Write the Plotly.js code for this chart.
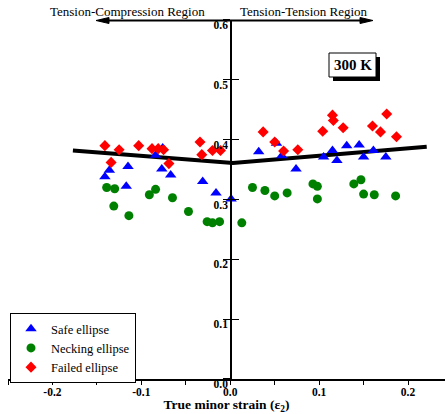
<!DOCTYPE html>
<html>
<head>
<meta charset="utf-8">
<script src="https://cdn.plot.ly/plotly-3.0.1.min.js"></script>
<style>html,body{margin:0;padding:0;background:#fff;}#chart{width:445px;height:414px;}</style>
</head>
<body>
<div id="chart"></div>
<script>
// Data
const safeX = [-0.141, -0.136, -0.117, -0.115, -0.084, -0.077, -0.076, -0.067, -0.031, -0.016, 0.001, 0.032, 0.052, 0.058, 0.074, 0.105, 0.115, 0.120, 0.131, 0.145, 0.150, 0.161, 0.175];
const safeY = [0.338, 0.349, 0.322, 0.355, 0.374, 0.351, 0.386, 0.341, 0.330, 0.311, 0.301, 0.380, 0.394, 0.373, 0.351, 0.371, 0.382, 0.365, 0.390, 0.391, 0.371, 0.382, 0.371];
const neckX = [-0.139, -0.130, -0.131, -0.114, -0.091, -0.084, -0.065, -0.047, -0.026, -0.020, -0.012, 0.013, 0.025, 0.039, 0.050, 0.064, 0.093, 0.098, 0.098, 0.139, 0.147, 0.150, 0.162, 0.186];
const neckY = [0.320, 0.318, 0.289, 0.273, 0.308, 0.317, 0.303, 0.280, 0.263, 0.261, 0.263, 0.261, 0.320, 0.315, 0.306, 0.311, 0.326, 0.322, 0.301, 0.326, 0.333, 0.309, 0.308, 0.306];
const failX = [-0.141, -0.134, -0.125, -0.103, -0.088, -0.081, -0.075, -0.069, -0.034, -0.032, -0.020, -0.011, 0.037, 0.050, 0.060, 0.076, 0.104, 0.115, 0.116, 0.127, 0.160, 0.169, 0.176, 0.187];
const failY = [0.390, 0.362, 0.383, 0.390, 0.385, 0.385, 0.383, 0.360, 0.396, 0.375, 0.382, 0.382, 0.413, 0.396, 0.381, 0.383, 0.414, 0.441, 0.432, 0.420, 0.423, 0.413, 0.443, 0.405];
const fldX = [-0.177, 0.003, 0.221];
const fldY = [0.382, 0.361, 0.388];
const seriesNames = ["Safe ellipse", "Necking ellipse", "Failed ellipse"];
const xTickVals = [-0.2, -0.1, 0.0, 0.1, 0.2];
const xTickText = ["-0.2", "-0.1", "0.0", "0.1", "0.2"];
const xMinorVals = [-0.25, -0.15, -0.05, 0.05, 0.15];
const yTickVals = [0.0, 0.1, 0.2, 0.3, 0.4, 0.5, 0.6];
const yTickText = ["0.0", "0.1", "0.2", "0.3", "0.4", "0.5", "0.6"];

const serif = "Liberation Serif";

const traces = [
  {x: fldX, y: fldY, mode: "lines", line: {color: "#000", width: 4}, showlegend: false, hoverinfo: "skip"},
  {x: safeX, y: safeY, mode: "markers", name: seriesNames[0], marker: {symbol: "triangle-up", color: "#0000ff", size: 10}},
  {x: neckX, y: neckY, mode: "markers", name: seriesNames[1], marker: {symbol: "circle", color: "#008000", size: 9}},
  {x: failX, y: failY, mode: "markers", name: seriesNames[2], marker: {symbol: "diamond", color: "#ff0000", size: 8.5}},
  {x: [0], y: [0.3], yaxis: "y2", mode: "markers", marker: {opacity: 0}, showlegend: false, hoverinfo: "skip"}
];

// plot area geometry (pixels)
const L = 8, T = 20, B = 35, W = 437, H = 359;
const px = v => (v - L) / W;          // pixel x -> paper x
const py = v => (T + H - v) / H;      // pixel y -> paper y
const xr = [-0.25, -0.25 + W / 889];
const ypos = (0 - xr[0]) / (xr[1] - xr[0]);

const layout = {
  width: 445, height: 414,
  margin: {l: L, r: 0, t: T, b: B},
  paper_bgcolor: "#fff", plot_bgcolor: "#fff",
  font: {family: serif, color: "#000"},
  showlegend: true,
  legend: {
    x: px(10), xanchor: "left", y: py(313), yanchor: "top",
    bgcolor: "#fff", bordercolor: "#000", borderwidth: 1,
    font: {family: serif, size: 12.5, color: "#000"},
    tracegroupgap: 0, itemwidth: 30
  },
  xaxis: {
    range: xr, showgrid: false, zeroline: false, automargin: false,
    showline: true, linecolor: "#000", linewidth: 2,
    tickvals: xTickVals, ticktext: xTickText,
    ticks: "outside", ticklen: 4, tickwidth: 1, tickcolor: "#000",
    ticklabelstandoff: -3,
    minor: {tickvals: xMinorVals, ticks: "outside", ticklen: 4, tickcolor: "#000"},
    tickfont: {family: serif, size: 11.5, weight: "bold", color: "#000"},
    title: {text: "True minor strain (ε<sub>2</sub>)", font: {family: serif, size: 13.5, weight: "bold", color: "#000"}}
  },
  yaxis: {
    range: [0, 0.6], showgrid: false, zeroline: false, automargin: false,
    anchor: "free", position: ypos, side: "left",
    showline: true, linecolor: "#000", linewidth: 1.5,
    tickvals: yTickVals, ticktext: yTickText,
    ticks: "inside", ticklen: 7, tickwidth: 1.2, tickcolor: "#000",
    ticklabelshift: 5, ticklabelstandoff: 0,
    tickfont: {family: serif, size: 11.5, weight: "bold", color: "#000"}
  },
  yaxis2: {
    range: [0, 0.6], overlaying: "y", anchor: "free", position: ypos, side: "left",
    showgrid: false, zeroline: false, showline: false, automargin: false,
    tickvals: yTickVals, ticks: "outside", ticklen: 7, tickwidth: 1.2, tickcolor: "#000",
    showticklabels: false
  },
  shapes: [
    // 300 K label box with drop shadow
    {type: "rect", xref: "paper", yref: "paper", x0: px(333), x1: px(380), y0: py(81), y1: py(57), fillcolor: "#000", line: {width: 0}, layer: "above"},
    {type: "rect", xref: "paper", yref: "paper", x0: px(329), x1: px(376), y0: py(77), y1: py(53), fillcolor: "#fff", line: {color: "#000", width: 1}, layer: "above"},
    // legend drop shadow
    {type: "rect", xref: "paper", yref: "paper", x0: px(13), x1: px(134), y0: py(379), y1: py(316), fillcolor: "#000", line: {width: 0}, layer: "above"},
    // double-headed arrow along the top
    {type: "line", xref: "paper", yref: "paper", x0: px(100), x1: px(369), y0: py(20.5), y1: py(20.5), line: {color: "#000", width: 2}, layer: "above"},
    {type: "path", xref: "paper", yref: "paper", path: `M ${px(96)},${py(20.5)} L ${px(109)},${py(17.5)} L ${px(109)},${py(23.5)} Z`, fillcolor: "#000", line: {color: "#000", width: 1}, layer: "above"},
    {type: "path", xref: "paper", yref: "paper", path: `M ${px(373)},${py(20.5)} L ${px(360)},${py(17.5)} L ${px(360)},${py(23.5)} Z`, fillcolor: "#000", line: {color: "#000", width: 1}, layer: "above"}
  ],
  annotations: [
    {xref: "paper", yref: "paper", x: px(352.5), y: py(65), xanchor: "center", yanchor: "middle", text: "<b>300 K</b>", showarrow: false, font: {family: serif, size: 15, color: "#000"}},
    {xref: "paper", yref: "paper", x: px(127.5), y: py(12), xanchor: "center", yanchor: "middle", text: "Tension-Compression Region", showarrow: false, font: {family: serif, size: 13, color: "#000"}},
    {xref: "paper", yref: "paper", x: px(303.5), y: py(12), xanchor: "center", yanchor: "middle", text: "Tension-Tension Region", showarrow: false, font: {family: serif, size: 13, color: "#000"}}
  ]
};

Plotly.newPlot("chart", traces, layout, {staticPlot: true, displayModeBar: false});
</script>
</body>
</html>
